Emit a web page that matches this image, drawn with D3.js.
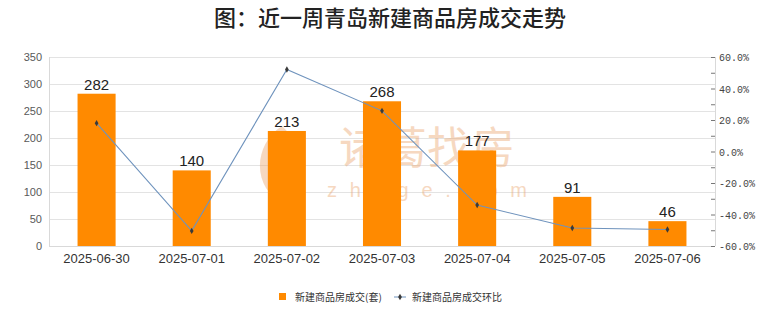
<!DOCTYPE html>
<html><head><meta charset="utf-8">
<script src="https://cdn.jsdelivr.net/npm/d3@7/dist/d3.min.js"></script>
<style>body{margin:0;background:#fff}svg{display:block}</style>
</head><body>
<svg id="c" width="780" height="328"></svg>
<script>
const categories = ["2025-06-30","2025-07-01","2025-07-02","2025-07-03","2025-07-04","2025-07-05","2025-07-06"];
const volume = [282,140,213,268,177,91,46];
const changePct = [18.0,-50.4,52.1,25.8,-34.0,-48.6,-49.5];
const leftTicks = [0,50,100,150,200,250,300,350];
const rightTicks = [-60,-40,-20,0,20,40,60];
const title = "图：近一周青岛新建商品房成交走势";
const seriesNames = ["新建商品房成交(套)","新建商品房成交环比"];

const svg = d3.select("#c");
const L=49, R=715, T=57, B=246;
const x = d3.scaleBand().domain(categories).range([L,R]).paddingInner(0.6).paddingOuter(0.3);
const xc = d3.scaleBand().domain(categories).range([L,R]);
const y = d3.scaleLinear().domain([0,350]).range([B,T]);
const y2 = d3.scaleLinear().domain([-60,60]).range([B,T]);

svg.append("text").attr("x",390).attr("y",26).attr("text-anchor","middle")
  .attr("font-family","Noto Sans CJK SC").attr("font-size",22).attr("font-weight",500).attr("fill","#222").text(title);

// grid
svg.append("g").selectAll("line").data(leftTicks).join("line")
  .attr("x1",L).attr("x2",R).attr("y1",d=>y(d)+0.5).attr("y2",d=>y(d)+0.5)
  .attr("stroke","#e3e3e3").attr("stroke-width",1);
svg.append("line").attr("x1",L+0.5).attr("x2",L+0.5).attr("y1",T).attr("y2",B).attr("stroke","#d9d9d9");
svg.append("line").attr("x1",R+0.5).attr("x2",R+0.5).attr("y1",T).attr("y2",B).attr("stroke","#d9d9d9");
svg.append("line").attr("x1",L).attr("x2",R).attr("y1",B+0.5).attr("y2",B+0.5).attr("stroke","#d9d9d9");

// watermark
const wm = svg.append("g").attr("opacity",0.42).attr("fill","#eaa36c");
wm.append("path").attr("d","M282,126 C260,140 254,168 266,188 C273,198 288,199 296,191 C306,178 306,148 282,126 Z");
wm.append("path").attr("d","M282,140 C272,152 270,172 280,186 C289,172 291,156 282,140 Z").attr("fill","#fff");
wm.append("text").attr("x",427).attr("y",164).attr("text-anchor","middle")
  .attr("font-family","Noto Sans CJK SC").attr("font-size",44).text("诸葛找房");
wm.append("text").attr("x",327).attr("y",197).attr("textLength",200).attr("lengthAdjust","spacing")
  .attr("font-family","Liberation Sans").attr("font-size",20).text("zhuge.com");

// bars
svg.append("g").selectAll("rect").data(volume).join("rect")
  .attr("x",(d,i)=>x(categories[i])).attr("width",x.bandwidth())
  .attr("y",d=>y(d)).attr("height",d=>B-y(d)).attr("fill","#ff8a00");
svg.append("g").selectAll("text").data(volume).join("text")
  .attr("x",(d,i)=>x(categories[i])+x.bandwidth()/2).attr("y",d=>y(d)-4)
  .attr("text-anchor","middle").attr("font-family","Liberation Sans").attr("font-size",15)
  .attr("fill","#222").text(d=>d);

// line
const cx = i=>xc(categories[i])+xc.bandwidth()/2;
svg.append("path").datum(changePct)
  .attr("d",d3.line().x((d,i)=>cx(i)).y(d=>y2(d)))
  .attr("fill","none").attr("stroke","#6f93bd").attr("stroke-width",1.1);
svg.append("g").selectAll("path").data(changePct).join("path")
  .attr("transform",(d,i)=>`translate(${cx(i)},${y2(d)})`)
  .attr("d",d3.symbol(d3.symbolDiamond,12)).attr("fill","#3a3a3a");

// left axis labels
svg.append("g").selectAll("text").data(leftTicks).join("text")
  .attr("x",42).attr("y",d=>y(d)+4).attr("text-anchor","end")
  .attr("font-family","Liberation Sans").attr("font-size",11).attr("fill","#595959").text(d=>d);

// right axis ticks & labels
svg.append("g").selectAll("line").data(d3.range(-60,61,10)).join("line")
  .attr("x1",R-4).attr("x2",R).attr("y1",d=>y2(d)+0.5).attr("y2",d=>y2(d)+0.5)
  .attr("stroke","#777");
svg.append("g").selectAll("text").data(rightTicks).join("text")
  .attr("x",719).attr("y",d=>y2(d)+4)
  .attr("font-family","Liberation Mono").attr("font-size",10).attr("fill","#444")
  .text(d=>d.toFixed(1)+"%");

// x labels
svg.append("g").selectAll("text").data(categories).join("text")
  .attr("x",(d,i)=>cx(i)).attr("y",263).attr("text-anchor","middle")
  .attr("font-family","Liberation Sans").attr("font-size",13).attr("fill","#333").text(d=>d);

// legend
const lg = svg.append("g").attr("font-family","Noto Sans CJK SC").attr("font-size",10).attr("fill","#333");
lg.append("rect").attr("x",279).attr("y",293).attr("width",7).attr("height",7).attr("fill","#ff8a00");
lg.append("text").attr("x",295).attr("y",300.5).text(seriesNames[0]);
lg.append("line").attr("x1",394).attr("x2",406).attr("y1",297).attr("y2",297).attr("stroke","#6f93bd");
lg.append("path").attr("transform","translate(400,297)").attr("d",d3.symbol(d3.symbolDiamond,12)).attr("fill","#3a3a3a");
lg.append("text").attr("x",412).attr("y",300.5).text(seriesNames[1]);
</script>
</body></html>
